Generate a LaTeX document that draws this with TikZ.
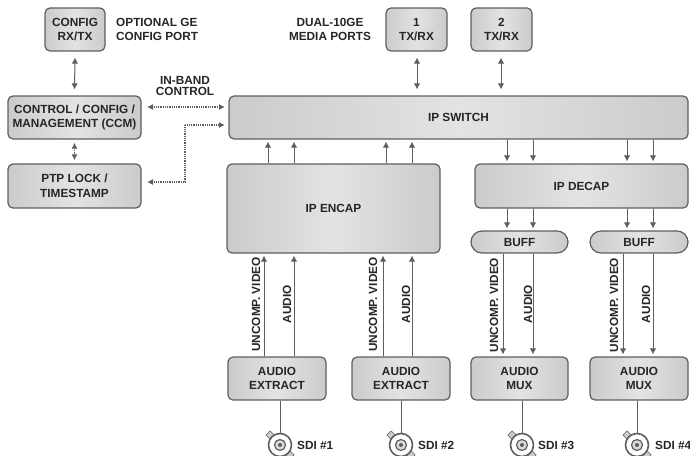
\documentclass[tikz,border=0pt]{standalone}
\usepackage{fontspec}
\setmainfont{Liberation Sans}
\usetikzlibrary{arrows.meta}
\definecolor{edge}{HTML}{5E5E5E}
\definecolor{boxside}{HTML}{CACBCD}
\definecolor{boxmid}{HTML}{E2E3E4}
\tikzset{
  block/.style={draw=edge,line width=1.2pt,rounded corners=5pt,left color=boxside,right color=boxside,middle color=boxmid,align=center,inner sep=0pt,font=\fontsize{11.8}{14.6}\selectfont\bfseries,text=black!85},
  pill/.style={block,rounded corners=11pt},
  lbl/.style={font=\fontsize{11.8}{14.6}\selectfont\bfseries,align=left,inner sep=0pt,text=black!85},
  vlbl/.style={lbl,rotate=90},
  link/.style={draw=edge,line width=1pt,-{Latex[length=6pt,width=6.5pt]}},
  dlink/.style={draw=edge,line width=1pt,{Latex[length=6pt,width=6.5pt]}-{Latex[length=6pt,width=6.5pt]}},
  dotlink/.style={draw=edge,line width=1.1pt,dash pattern=on 1pt off 0.8pt,{Latex[length=6pt,width=6pt]}-{Latex[length=6pt,width=6pt]}},
  plain/.style={draw=edge,line width=1pt},
}
\newcommand{\blk}[6]{\node[#1,minimum width=#4pt-#3pt,minimum height=#6pt-#5pt] (#2) at ({(#3+#4)/2},{(#5+#6)/2})}
\newcommand{\bnc}[2]{%
  \fill[boxside,draw=edge,line width=.5pt,rotate around={45:(#2,445)}] (#2-3,428) rectangle (#2+3,434);
  \fill[boxside,draw=edge,line width=.5pt,rotate around={45:(#2,445)}] (#2-3,456) rectangle (#2+3,462);
  \node[circle,draw=edge,line width=1.6pt,minimum size=23pt,inner sep=0pt,fill=white] (#1) at (#2,445) {};
  \node[circle,draw=edge,line width=1.2pt,minimum size=11pt,inner sep=0pt,fill=boxside!70] (#1i) at (#2,445) {};
  \node[circle,fill=edge,minimum size=4pt,inner sep=0pt] (#1c) at (#2,445) {};
}
\begin{document}
\begin{tikzpicture}[x=1pt,y=-1pt]
\useasboundingbox (0,0) rectangle (690,455);
\clip (0,0) rectangle (690,455);
\blk{block}{cfg}{45}{105}{8}{51} {CONFIG\\RX/TX};
\blk{block}{ccm}{8}{141}{96}{139} {CONTROL / CONFIG /\\MANAGEMENT (CCM)};
\blk{block}{ptp}{8}{141}{164}{208} {PTP LOCK /\\TIMESTAMP};
\blk{block}{sw}{229}{688}{96}{139} {IP SWITCH};
\blk{block}{tx1}{386}{447}{8}{51} {1\\TX/RX};
\blk{block}{tx2}{471}{532}{8}{51} {2\\TX/RX};
\blk{block}{enc}{227}{440}{164}{253} {IP ENCAP};
\blk{block}{dec}{475}{688}{164}{208} {IP DECAP};
\blk{pill}{bf1}{471}{568}{231}{253} {BUFF};
\blk{pill}{bf2}{590}{688}{231}{253} {BUFF};
\blk{block}{ex1}{228}{326}{357}{400} {AUDIO\\EXTRACT};
\blk{block}{ex2}{352}{450}{357}{400} {AUDIO\\EXTRACT};
\blk{block}{mx1}{471}{568}{357}{400} {AUDIO\\MUX};
\blk{block}{mx2}{590}{688}{357}{400} {AUDIO\\MUX};
% text labels
\node[lbl,anchor=west] (optl) at (116,29.5) {OPTIONAL GE\\CONFIG PORT};
\node[lbl,align=center] (dual) at (330,29.5) {DUAL-10GE\\MEDIA PORTS};
\node[lbl,align=center,font=\fontsize{11.8}{11.2}\selectfont\bfseries] (inb) at (185,86) {IN-BAND\\CONTROL};
\foreach \n/\x/\y in {a/256/304.5,b/373/304.5,c/494/305,d/614/305}
  \node[vlbl] (uv\n) at (\x,\y) {UNCOMP. VIDEO};
\foreach \n/\x/\y in {a/287/304.5,b/406/304.5,c/528/304,d/646/304}
  \node[vlbl] (au\n) at (\x,\y) {AUDIO};
% connectors between gapped boxes
\draw[dlink] ([yshift=-6pt]cfg.south) -- ([yshift=6pt]ccm.north);
\draw[dotlink] ([yshift=-3pt]ccm.south) -- ([yshift=3pt]ptp.north);
\coordinate (inR) at (225,107);
\coordinate (inL) at (147,107);
\draw[dotlink] (inL) -- (inR);
\coordinate (ptpL) at (147,182);
\coordinate (ptpR) at (225,125);
\coordinate (ptpM) at (185,125);
\draw[dotlink] (ptpL) -| (ptpM) -- (ptpR);
\coordinate (t1) at (417,0);
\coordinate (t2) at (501,0);
\draw[dlink] ([yshift=-6pt]tx1.south -| t1) -- ([yshift=6pt]sw.north -| t1);
\draw[dlink] ([yshift=-6pt]tx2.south -| t2) -- ([yshift=6pt]sw.north -| t2);
% encap to switch
\foreach \x in {268,294,386,412} {
  \coordinate (p) at (\x,0);
  \draw[link] (enc.north -| p) -- ([yshift=-2pt]sw.south -| p);
}
% switch to decap to buffers
\foreach \x in {507,533,627,653} {
  \coordinate (p) at (\x,0);
  \draw[link] (sw.south -| p) -- ([yshift=2pt]dec.north -| p);
}
\foreach \x/\b in {507/bf1,533/bf1,627/bf2,653/bf2} {
  \coordinate (p) at (\x,0);
  \draw[link] (dec.south -| p) -- ([yshift=2pt]\b.north -| p);
}
% extract to encap
\foreach \x/\b in {264/ex1,294/ex1,383/ex2,412/ex2} {
  \coordinate (p) at (\x,0);
  \draw[link] (\b.north -| p) -- ([yshift=-2pt]enc.south -| p);
}
% buffers to mux
\foreach \x/\b/\m in {503/bf1/mx1,533/bf1/mx1,623/bf2/mx2,653/bf2/mx2} {
  \coordinate (p) at (\x,0);
  \draw[link] (\b.south -| p) -- ([yshift=2pt]\m.north -| p);
}
% SDI connectors
\bnc{ba}{280}
\bnc{bb}{401}
\bnc{bc}{522}
\bnc{bd}{637}
\draw[plain] (ex1.south -| ba) -- (ba);
\draw[plain] (ex2.south -| bb) -- (bb);
\draw[plain] (mx1.south -| bc) -- (bc);
\draw[plain] (mx2.south -| bd) -- (bd);
\node[lbl,anchor=west] (sa) at (297,445) {SDI \#1};
\node[lbl,anchor=west] (sb) at (418,445) {SDI \#2};
\node[lbl,anchor=west] (sc) at (538,445) {SDI \#3};
\node[lbl,anchor=west] (sd) at (655,445) {SDI \#4};
\end{tikzpicture}
\end{document}
